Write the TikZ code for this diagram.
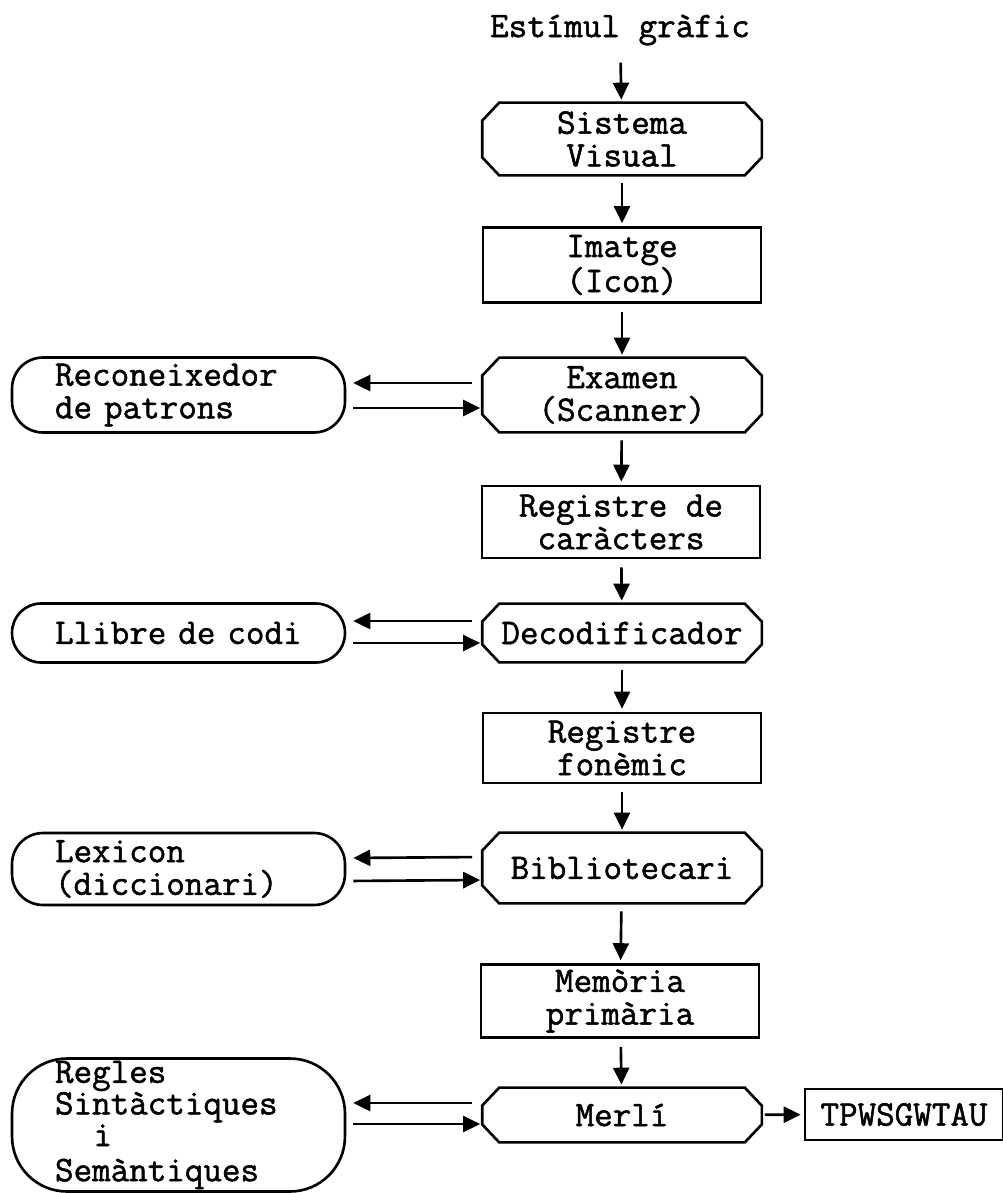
\documentclass[tikz,border=0pt]{standalone}
\usepackage{fontspec}
\setmonofont{Latin Modern Mono}[FakeBold=1.4]
\usetikzlibrary{arrows.meta}

% octagonal frame drawn around a named node
\newcommand\octaframe[1]{%
  \draw[line width=1.5pt]
    ([xshift=0.34cm]#1.north west) -- ([xshift=-0.34cm]#1.north east)
    -- ([yshift=-0.36cm]#1.north east) -- ([yshift=0.36cm]#1.south east)
    -- ([xshift=-0.34cm]#1.south east) -- ([xshift=0.34cm]#1.south west)
    -- ([yshift=0.36cm]#1.south west) -- ([yshift=-0.36cm]#1.north west)
    -- cycle;}

\begin{document}
\begin{tikzpicture}[x=0.02cm,y=-0.02cm,
  every node/.style={font=\fontsize{20.5}{18.6}\selectfont\ttfamily,
    align=center, inner sep=0pt},
  rectbox/.style={draw, line width=1.5pt, minimum width=5.56cm},
  octabox/.style={minimum width=5.58cm},
  pillbox/.style={draw, line width=1.5pt, minimum width=6.66cm,
    rounded corners=0.62cm, text width=4.94cm, align=left, inner xsep=0.86cm},
  arr/.style={-{Triangle[length=0.34cm,width=0.32cm]}, line width=1.5pt},
  varr/.style={arr, shorten <=0.16cm, shorten >=0.06cm},
  larr/.style={arr, shorten <=0.2cm, shorten >=0.14cm},
  rarr/.style={arr, shorten <=0.14cm, shorten >=0.04cm},
]
\useasboundingbox (0,0) rectangle (1003,1193);

% main column
\node (title) at (620,30) {Estímul gràfic};
\node[octabox, minimum height=1.44cm] (sv) at (622,139) {Sistema\\Visual};
\node[rectbox, minimum height=1.5cm]  (im) at (622,265) {Imatge\\(Icon)};
\node[octabox, minimum height=1.48cm] (ex) at (622,395) {Examen\\(Scanner)};
\node[rectbox, minimum height=1.44cm] (rg) at (621,522) {Registre de\\caràcters};
\node[octabox, minimum height=1.16cm] (dc) at (622,633) {Decodificador};
\node[rectbox, minimum height=1.4cm]  (rf) at (622,748) {Registre\\fonèmic};
\node[octabox, minimum height=1.4cm]  (bi) at (622,868) {Bibliotecari};
\node[rectbox, minimum height=1.46cm] (mp) at (620,1001) {Memòria\\primària};
\node[octabox, minimum height=1.08cm] (me) at (622,1115) {Merlí};
\node[draw, line width=1.5pt, minimum width=3.96cm, minimum height=1.02cm]
  (tp) at (904,1114.5) {TPWSGWTAU};

\foreach \n in {sv,ex,dc,bi,me} {\octaframe{\n}}

% side stores
\node[pillbox, minimum height=1.5cm] (rc) at (178.5,395)
  {Reconeixedor\\de patrons};
\node[pillbox, minimum height=1.18cm, rounded corners=0.58cm] (lc) at (178.5,633)
  {\mbox{Llibre de codi}};
\node[pillbox, minimum height=1.44cm] (lx) at (178.5,869)
  {Lexicon\\(diccionari)};
\node[pillbox, minimum height=2.66cm, rounded corners=1.1cm,
  font=\fontsize{20.5}{18}\selectfont\ttfamily] (rs) at (178.5,1125)
  {Regles\\Sintàctiques\\\hspace*{0.77cm}i\\[2pt]Semàntiques};

% vertical flow
\draw[varr, shorten <=0.34cm] (title) -- (sv);
\draw[varr] (sv) -- (im);
\draw[varr] (im) -- (ex);
\draw[varr] (ex) -- (rg);
\draw[varr] (rg) -- (dc);
\draw[varr] (dc) -- (rf);
\draw[varr] (rf) -- (bi);
\draw[varr] (bi) -- (mp);
\draw[varr] (mp) -- (me);

% exchanges with the side stores
\draw[larr] ([yshift=0.24cm]ex.west) -- ([yshift=0.24cm]rc.east);
\draw[rarr] ([yshift=-0.26cm]rc.east) -- ([yshift=-0.26cm]ex.west);
\draw[larr] ([yshift=0.24cm]dc.west) -- ([yshift=0.24cm]lc.east);
\draw[rarr] ([yshift=-0.2cm]lc.east) -- ([yshift=-0.2cm]dc.west);
\draw[larr] ([yshift=0.22cm]bi.west) -- ([yshift=0.22cm]lx.east);
\draw[rarr] ([yshift=-0.24cm]lx.east) -- ([yshift=-0.24cm]bi.west);
\draw[larr] ([yshift=0.24cm]me.west) -- ([yshift=0.24cm]me.west -| rs.east);
\draw[rarr] ([yshift=-0.18cm]me.west -| rs.east) -- ([yshift=-0.18cm]me.west);

\draw[arr, shorten <=0.06cm, shorten >=0.06cm] (me) -- (tp);
\end{tikzpicture}
\end{document}
